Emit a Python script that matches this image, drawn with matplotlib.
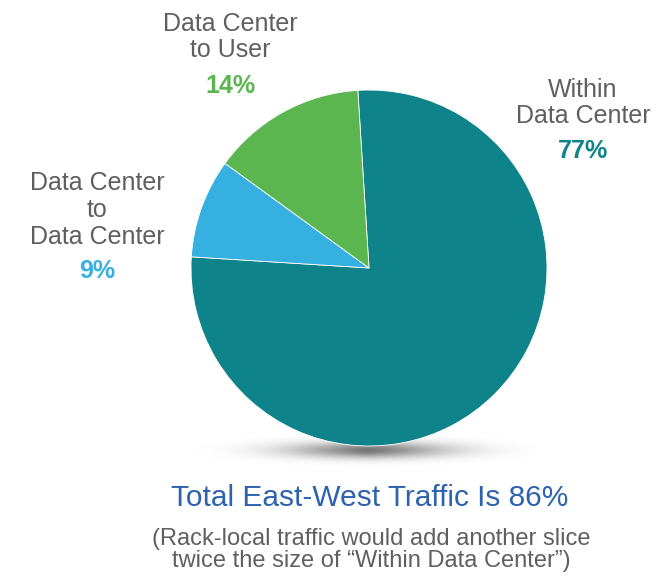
import numpy as np
import matplotlib.pyplot as plt

labels = ['Within\nData Center', 'Data Center\nto\nData Center', 'Data Center\nto User']
values = [77, 9, 14]
colors = ['#0F838A', '#36B0E0', '#5BB64F']
title = 'Total East-West Traffic Is 86%'
note = '(Rack-local traffic would add another slice\ntwice the size of \u201cWithin Data Center\u201d)'

plt.rcParams['font.family'] = ['Liberation Sans', 'DejaVu Sans']

W, H = 659, 576
fig = plt.figure(figsize=(W / 100, H / 100), dpi=100)
ax = fig.add_axes([0, 0, 1, 1])

cx, cy, r = 369, H - 268, 178

# soft shadow under the pie
gx = np.linspace(-1, 1, 400)
gy = np.linspace(-1, 1, 80)
X, Y = np.meshgrid(gx, gy)
shadow = np.exp(-(X**2) * 3.0 - (Y**2) * 6.0) * np.clip(1 - np.abs(X), 0, 1)
rgba = np.zeros(shadow.shape + (4,))
rgba[..., 3] = shadow * 0.55
ax.imshow(rgba, extent=(cx - 190, cx + 190, H - 470, H - 430), zorder=1,
          interpolation='bilinear')

wedges, _ = ax.pie(values, colors=colors, startangle=93.6, counterclock=False,
                   center=(cx, cy), radius=r, frame=True,
                   wedgeprops=dict(linewidth=0.6, edgecolor='white'))
for w in wedges:
    w.set_zorder(2)
ax.set_xlim(0, W)
ax.set_ylim(0, H)
ax.set_aspect('equal')
ax.axis('off')

grey = '#5f5f5f'
fs = 18
ls = 1.15
ax.text(583, H - 103, labels[0], ha='center', va='center', fontsize=fs,
        color=grey, linespacing=ls)
ax.text(583, H - 151, f'{values[0]}%', ha='center', va='center', fontsize=fs,
        color=colors[0], fontweight='bold')

ax.text(97, H - 210, labels[1], ha='center', va='center', fontsize=fs,
        color=grey, linespacing=ls)
ax.text(97, H - 271, f'{values[1]}%', ha='center', va='center', fontsize=fs,
        color=colors[1], fontweight='bold')

ax.text(230, H - 37, labels[2], ha='center', va='center', fontsize=fs,
        color=grey, linespacing=ls)
ax.text(230, H - 86, f'{values[2]}%', ha='center', va='center', fontsize=fs,
        color=colors[2], fontweight='bold')

ax.text(370, H - 498, title, ha='center', va='center', fontsize=21.5,
        color='#2D62AE')
ax.text(371, H - 550, note, ha='center', va='center', fontsize=17,
        color=grey, linespacing=1.05)

fig.savefig('out.png', dpi=100)
